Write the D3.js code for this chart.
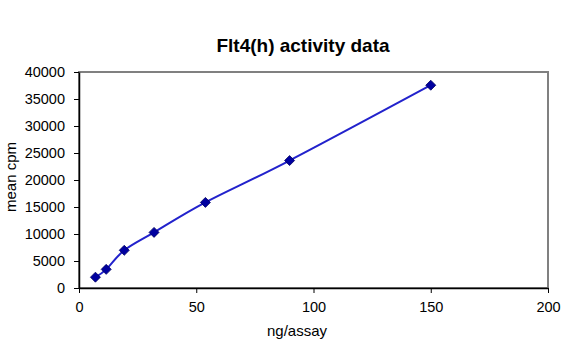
<!DOCTYPE html>
<html lang="en">
<head>
<meta charset="UTF-8" />
<title>Flt4(h) activity data</title>
<style>
  body { margin: 0; background: #fff; }
  text { font-family: Arial, "Liberation Sans", sans-serif; fill: #000; }
</style>
</head>
<body>
<svg width="575" height="352" id="mainsvg"></svg>
<script src="https://cdn.jsdelivr.net/npm/d3@7"></script>
<script>
const ngAssay = [7, 11.6, 19.3, 32, 53.9, 89.8, 150]
const meanCpm = [2000, 3450, 6980, 10300, 15850, 23600, 37550]
const xTicks = [0, 50, 100, 150, 200]
const yTicks = [0, 5000, 10000, 15000, 20000, 25000, 30000, 35000, 40000]

const svg = d3.select("#mainsvg")
const plotL = 79, plotR = 548, plotT = 72, plotB = 288

const x = d3.scaleLinear().domain([0, 200]).range([plotL, plotR])
const y = d3.scaleLinear().domain([0, 40000]).range([plotB, plotT])

// plot frame (grey top/right)
svg.append("rect")
  .attr("x", plotL).attr("y", plotT)
  .attr("width", plotR - plotL).attr("height", plotB - plotT)
  .attr("fill", "none").attr("stroke", "#808080").attr("stroke-width", 2)

const xAxis = svg.append("g")
  .attr("transform", `translate(0,${plotB})`)
  .call(d3.axisBottom(x).tickValues(xTicks).tickSize(5).tickSizeOuter(0))
const yAxis = svg.append("g")
  .attr("transform", `translate(${plotL},0)`)
  .call(d3.axisLeft(y).tickValues(yTicks).tickFormat(d3.format("d")).tickSize(5).tickSizeOuter(0))

for (const g of [xAxis, yAxis]) {
  g.select(".domain").attr("stroke", "#000").attr("stroke-width", 1.5)
  g.selectAll(".tick line").attr("stroke", "#000")
  g.selectAll(".tick text").attr("font-size", 14.5).attr("font-family", "Arial, 'Liberation Sans', sans-serif")
}
xAxis.selectAll(".tick text").attr("y", 14)
yAxis.selectAll(".tick text").attr("x", -14)

const pts = ngAssay.map((d, i) => [d, meanCpm[i]])

svg.append("path")
  .datum(pts)
  .attr("fill", "none")
  .attr("stroke", "#2222cc")
  .attr("stroke-width", 2)
  .attr("d", d3.line().x(d => x(d[0])).y(d => y(d[1])).curve(d3.curveCardinal.tension(0)))

svg.selectAll(".pt")
  .data(pts)
  .join("path")
  .attr("class", "pt")
  .attr("transform", d => `translate(${x(d[0])},${y(d[1])})`)
  .attr("d", "M0,-5L5,0L0,5L-5,0Z")
  .attr("fill", "#0000a0")
  .attr("stroke", "#000060")
  .attr("stroke-width", 0.8)

svg.append("text")
  .attr("x", 303).attr("y", 52)
  .attr("text-anchor", "middle")
  .attr("font-size", 19).attr("font-weight", "bold")
  .text("Flt4(h) activity data")

svg.append("text")
  .attr("x", 297).attr("y", 336)
  .attr("text-anchor", "middle")
  .attr("font-size", 15)
  .text("ng/assay")

svg.append("text")
  .attr("transform", "translate(16,177) rotate(-90)")
  .attr("text-anchor", "middle")
  .attr("font-size", 15)
  .text("mean cpm")
</script>
</body>
</html>
